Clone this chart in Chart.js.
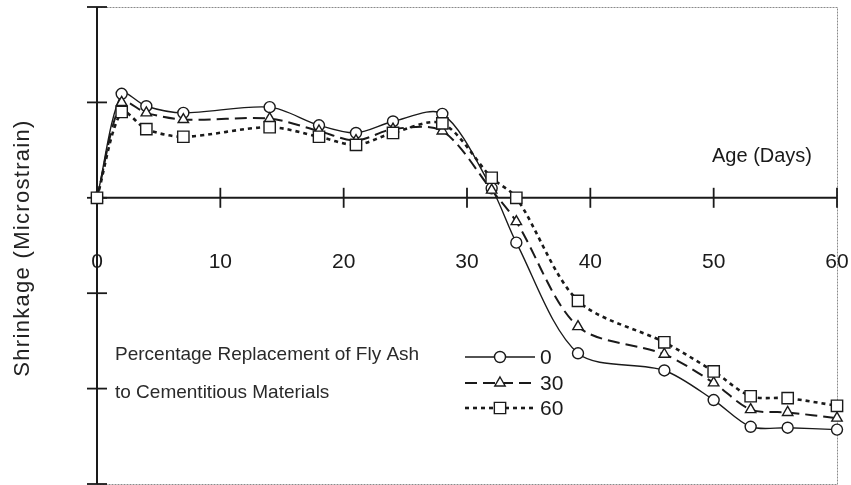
<!DOCTYPE html>
<html>
<head>
<meta charset="utf-8">
<script src="https://cdn.jsdelivr.net/npm/chart.js@4/dist/chart.umd.min.js"></script>
<style>
html,body{margin:0;padding:0;background:#fff;}
#wrap{width:851px;height:485px;position:relative;}
</style>
</head>
<body>
<div id="wrap"><canvas id="c" width="851" height="485"></canvas></div>
<script>
// Age (days)
const days = [0, 2, 4, 7, 14, 18, 21, 24, 28, 32, 34, 39, 46, 50, 53, 56, 60];
// Shrinkage (relative units, one unit per y tick)
const fa0  = [0, 1.09, 0.96, 0.89, 0.95, 0.76, 0.68, 0.80, 0.88, 0.10, -0.47, -1.63, -1.81, -2.12, -2.40, -2.41, -2.43];
const fa30 = [0, 1.00, 0.89, 0.82, 0.83, 0.70, 0.60, 0.72, 0.70, 0.08, -0.25, -1.35, -1.64, -1.94, -2.22, -2.25, -2.31];
const fa60 = [0, 0.90, 0.72, 0.64, 0.74, 0.64, 0.555, 0.68, 0.78, 0.21, 0.00, -1.08, -1.515, -1.82, -2.08, -2.10, -2.18];
const seriesNames = ['0', '30', '60'];
const xTicks = [0, 10, 20, 30, 40, 50, 60];
const yTicks = [-3, -2, -1, 0, 1, 2];
const xTitle = 'Age (Days)';
const yTitle = 'Shrinkage (Microstrain)';
const noteLines = ['Percentage Replacement of Fly Ash', 'to Cementitious Materials'];

const FONT = '"Liberation Sans", Arial, sans-serif';
const INK = '#1a1a1a';

function pts(arr){ return days.map((d,i)=>({x:d, y:arr[i]})); }

const styles = [
  {pointStyle:'circle', radius:5.5, dash:[], width:1.4},
  {pointStyle:'triangle', radius:6, dash:[12,6], width:2},
  {pointStyle:'rect', radius:8, dash:[4,4], width:2.6}
];

const datasets = [fa0, fa30, fa60].map((arr, i) => ({
  label: seriesNames[i],
  data: pts(arr),
  borderColor: INK,
  backgroundColor: '#fff',
  borderWidth: styles[i].width,
  borderDash: styles[i].dash,
  pointStyle: styles[i].pointStyle,
  pointRadius: styles[i].radius,
  pointBorderWidth: 1.4,
  pointBorderColor: INK,
  pointBackgroundColor: '#fff',
  tension: 0.3,
  fill: false,
  clip: false,
  order: 3 - i
}));

const decor = {
  id: 'decor',
  beforeDatasetsDraw(chart){
    const {ctx, chartArea:a, scales:{x, y}} = chart;
    ctx.save();
    // frame
    ctx.strokeStyle = '#8a8a8a';
    ctx.lineWidth = 1;
    ctx.setLineDash([2,1]);
    ctx.strokeRect(a.left + 0.5, a.top + 0.5, a.right - a.left, a.bottom - a.top);
    ctx.setLineDash([]);
    // y axis
    const x0 = x.getPixelForValue(0);
    const y0 = y.getPixelForValue(0);
    ctx.strokeStyle = INK;
    ctx.lineWidth = 2;
    ctx.beginPath();
    ctx.moveTo(x0, a.top); ctx.lineTo(x0, a.bottom);
    ctx.stroke();
    // x axis at y=0
    ctx.beginPath();
    ctx.moveTo(a.left, y0); ctx.lineTo(a.right, y0);
    ctx.stroke();
    // x ticks crossing the axis
    ctx.lineWidth = 1.8;
    xTicks.forEach(v => {
      if (v === 0) return;
      const px = x.getPixelForValue(v);
      ctx.beginPath(); ctx.moveTo(px, y0 - 10); ctx.lineTo(px, y0 + 10); ctx.stroke();
    });
    // y ticks crossing the axis
    yTicks.forEach(v => {
      const py = y.getPixelForValue(v);
      ctx.beginPath(); ctx.moveTo(x0 - 10, py); ctx.lineTo(x0 + 10, py); ctx.stroke();
    });
    // x tick labels
    ctx.fillStyle = INK;
    ctx.font = '21px ' + FONT;
    ctx.textAlign = 'center';
    ctx.textBaseline = 'middle';
    xTicks.forEach(v => {
      ctx.fillText(String(v), x.getPixelForValue(v), y0 + 64);
    });
    // x title
    ctx.font = '20px ' + FONT;
    ctx.textAlign = 'center';
    ctx.fillText(xTitle, 762, y0 - 41);
    // y title
    ctx.save();
    ctx.translate(23, 248);
    ctx.rotate(-Math.PI/2);
    ctx.font = '22px ' + FONT;
    ctx.fillStyle = '#222';
    try { ctx.letterSpacing = '1.3px'; } catch(e) {}
    ctx.textAlign = 'center';
    ctx.fillText(yTitle, 0, 0);
    ctx.restore();
    // note text
    ctx.font = '19px ' + FONT;
    ctx.textAlign = 'left';
    ctx.fillStyle = '#2a2a2a';
    ctx.fillText(noteLines[0], 115, 355);
    ctx.fillText(noteLines[1], 115, 393);
    // legend
    const rows = [357, 383, 408];
    chart.data.datasets.forEach((ds, i) => {
      const ly = rows[i];
      ctx.strokeStyle = INK;
      ctx.lineWidth = ds.borderWidth;
      ctx.setLineDash(ds.borderDash);
      ctx.beginPath(); ctx.moveTo(465, ly); ctx.lineTo(535, ly); ctx.stroke();
      ctx.setLineDash([]);
      ctx.fillStyle = '#fff';
      ctx.lineWidth = 1.4;
      Chart.helpers.drawPoint(ctx, {pointStyle: ds.pointStyle, radius: ds.pointRadius, borderWidth: 1.4}, 500, ly);
      ctx.fillStyle = INK;
      ctx.font = '21px ' + FONT;
      ctx.textAlign = 'left';
      ctx.fillText(ds.label, 540, ly + 1);
    });
    ctx.restore();
  }
};

new Chart(document.getElementById('c'), {
  type: 'line',
  data: { datasets },
  options: {
    responsive: false,
    animation: false,
    devicePixelRatio: 1,
    layout: { autoPadding: false, padding: { left: 97, right: 14, top: 7, bottom: 1 } },
    plugins: { legend: { display: false }, tooltip: { enabled: false } },
    scales: {
      x: { type: 'linear', min: 0, max: 60, display: false },
      y: { type: 'linear', min: -3, max: 2, display: false }
    }
  },
  plugins: [decor]
});
</script>
</body>
</html>
